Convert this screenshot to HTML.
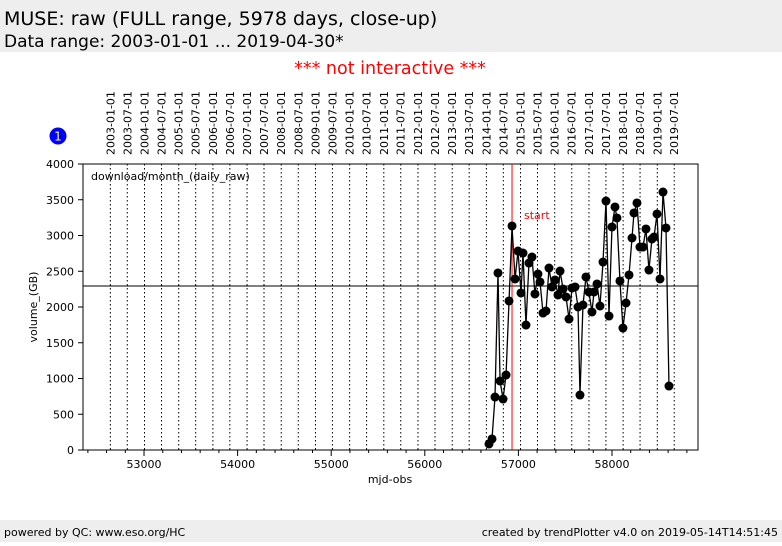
<!DOCTYPE html>
<html><head><meta charset="utf-8"><style>
body{margin:0;width:782px;height:542px;overflow:hidden;background:#fff;font-family:"DejaVu Sans","Liberation Sans",sans-serif}
svg text{font-family:"DejaVu Sans","Liberation Sans",sans-serif}
</style></head><body>
<svg id="c" width="782" height="542">
<rect x="0" y="0" width="782" height="52" fill="#eeeeee"/>
<text x="4" y="25" font-size="19">MUSE: raw (FULL range, 5978 days, close-up)</text>
<text x="4" y="47" font-size="17">Data range: 2003-01-01 ... 2019-04-30*</text>
<text x="390" y="74" font-size="17.5" fill="#ff0000" text-anchor="middle">*** not interactive ***</text>
<rect x="0" y="520" width="782" height="22" fill="#eeeeee"/>
<text x="4" y="536" font-size="11">powered by QC: www.eso.org/HC</text>
<text x="778" y="536" font-size="11" text-anchor="end">created by trendPlotter v4.0 on 2019-05-14T14:51:45</text>
<circle cx="58" cy="136" r="8.5" fill="#0000ff"/>
<text x="58" y="140.5" font-size="12" fill="#ffff66" text-anchor="middle">1</text>
<g id="plot"></g>
</svg>
<script>
const mjd=[56686,56718,56750,56782,56804,56836,56868,56900,56932,56964,56996,57028,57049,57081,57113,57145,57177,57209,57231,57263,57295,57327,57359,57391,57423,57445,57477,57509,57541,57573,57605,57637,57658,57690,57722,57754,57786,57808,57840,57872,57904,57936,57968,58000,58032,58053,58085,58117,58150,58182,58214,58235,58267,58299,58331,58363,58395,58427,58449,58481,58513,58545,58577,58609];
const volume=[84,154,741,2476,965,713,1049,2084,3133,2392,2783,2196,2755,1748,2615,2699,2182,2461,2350,1916,1944,2545,2280,2378,2168,2503,2252,2140,1832,2266,2280,2000,769,2028,2420,2210,1930,2210,2322,2014,2629,3482,1874,3119,3399,3245,2364,1706,2056,2448,2965,3315,3455,2839,2839,3091,2517,2951,2979,3301,2392,3608,3105,895];
const yTicks=[0,500,1000,1500,2000,2500,3000,3500,4000];
const xTicks=[53000,54000,55000,56000,57000,58000];
const dateLabels=["2003-01-01","2003-07-01","2004-01-01","2004-07-01","2005-01-01","2005-07-01","2006-01-01","2006-07-01","2007-01-01","2007-07-01","2008-01-01","2008-07-01","2009-01-01","2009-07-01","2010-01-01","2010-07-01","2011-01-01","2011-07-01","2012-01-01","2012-07-01","2013-01-01","2013-07-01","2014-01-01","2014-07-01","2015-01-01","2015-07-01","2016-01-01","2016-07-01","2017-01-01","2017-07-01","2018-01-01","2018-07-01","2019-01-01","2019-07-01"];
const refLevel=2294, startMjd=56932;
const L=83,R=698,T=164,B=450, X0=52348,X1=58919, Y1=4000;
const sx=m=>L+(m-X0)/(X1-X0)*(R-L);
const sy=v=>B-v/Y1*(B-T);
const ns="http://www.w3.org/2000/svg";
const g=document.getElementById('plot');
function mk(t,a,p){const e=document.createElementNS(ns,t);for(const k in a)e.setAttribute(k,a[k]);(p||g).appendChild(e);return e;}
function mjdOf(s){const d=Date.UTC(+s.slice(0,4),+s.slice(5,7)-1,+s.slice(8,10));return d/86400000+40587;}
dateLabels.forEach(s=>{const x=sx(mjdOf(s));
 let l=mk('line',{x1:x,x2:x,y1:T,y2:B,stroke:'#000','stroke-width':1,'stroke-dasharray':'1.5,2.5'});
 
 
 let t=mk('text',{x:0,y:0,'font-size':11,transform:`translate(${x+4},155) rotate(-90)`});
 t.textContent=s;
 
 
});
for(let m=52400;m<=58800;m+=200){const x=sx(m);const big=m%1000===0;
 let l=mk('line',{x1:x,x2:x,y1:B,y2:B+(big?6:3),stroke:'#000'});
 
 }
xTicks.forEach(m=>{let t=mk('text',{x:sx(m),y:B+18,'font-size':11,'text-anchor':'middle'});t.textContent=m;
 
 });
yTicks.forEach(v=>{const y=sy(v);
 let l=mk('line',{x1:L-5,x2:L,y1:y,y2:y,stroke:'#000'});
 
 
 let t=mk('text',{x:L-9,y:y+4,'font-size':11,'text-anchor':'end'});t.textContent=v;
 
 });
let fr=mk('rect',{x:L,y:T,width:R-L,height:B-T,fill:'none',stroke:'#000'});


let hl=mk('line',{x1:L,x2:R,y1:sy(refLevel),y2:sy(refLevel),stroke:'#000'});


let vl=mk('line',{x1:sx(startMjd),x2:sx(startMjd),y1:T,y2:B,stroke:'#ff0000'});


let st=mk('text',{x:sx(startMjd)+12,y:219,'font-size':11,fill:'#ff0000'});st.textContent='start';


let pl=mk('polyline',{points:mjd.map((m,i)=>sx(m)+','+sy(volume[i])).join(' '),fill:'none',stroke:'#000','stroke-width':1.3});


mjd.forEach((m,i)=>{let c=mk('circle',{cx:sx(m),cy:sy(volume[i]),r:4.5,fill:'#000'});
 
 });
let lg=mk('text',{x:91,y:180,'font-size':11});lg.textContent='download/month_(daily_raw)';


let xt=mk('text',{x:390,y:483,'font-size':11,'text-anchor':'middle'});xt.textContent='mjd-obs';


let yt=mk('text',{x:0,y:0,'font-size':11,'text-anchor':'middle',transform:'translate(37,307) rotate(-90)'});yt.textContent='volume_(GB)';


</script>
</body></html>
